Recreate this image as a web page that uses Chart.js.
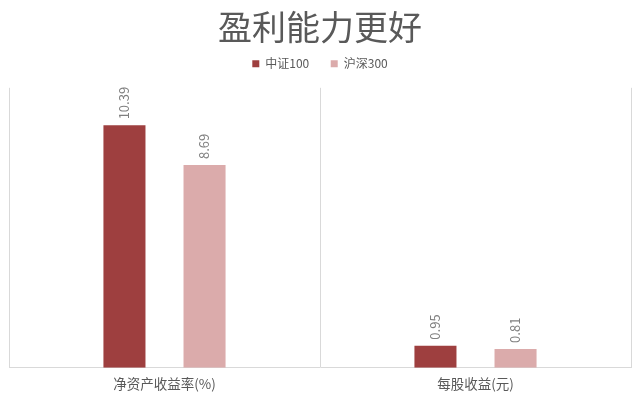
<!DOCTYPE html>
<html><head><meta charset="utf-8">
<script src="https://cdn.jsdelivr.net/npm/chart.js@4"></script>
<style>html,body{margin:0;padding:0;background:#fff}#wrap{width:640px;height:397px}</style>
</head><body><div id="wrap"><canvas id="c" width="640" height="397"></canvas></div>
<script>
const categories = ['净资产收益率(%)', '每股收益(元)'];
const seriesNames = ['中证100', '沪深300'];
const csi100 = [10.39, 0.95];
const hs300 = [8.69, 0.81];
const colors = ['#9E3F3F', '#DBABAB'];
const FONT = '"Noto Sans CJK SC", "Noto Sans", sans-serif';

const valueLabels = {
  id: 'valueLabels',
  afterDatasetsDraw(chart) {
    const ctx = chart.ctx;
    chart.data.datasets.forEach((ds, i) => {
      const meta = chart.getDatasetMeta(i);
      meta.data.forEach((bar, j) => {
        ctx.save();
        ctx.translate(bar.x, bar.y - 6);
        ctx.rotate(-Math.PI / 2);
        ctx.font = '13px ' + FONT;
        ctx.fillStyle = '#808080';
        ctx.textAlign = 'left';
        ctx.textBaseline = 'middle';
        ctx.fillText(ds.data[j].toFixed(2), 0, 0);
        ctx.restore();
      });
    });
  }
};

const legendSpacer = {
  id: 'legendSpacer',
  beforeInit(chart) {
    const lg = chart.legend;
    const orig = lg.fit;
    lg.fit = function () { orig.call(this); this.height += 8; };
  }
};

new Chart(document.getElementById('c'), {
  type: 'bar',
  data: {
    labels: categories,
    datasets: [
      { label: seriesNames[0], data: csi100, backgroundColor: colors[0], categoryPercentage: 0.515, barPercentage: 0.525 },
      { label: seriesNames[1], data: hs300, backgroundColor: colors[1], categoryPercentage: 0.515, barPercentage: 0.525 }
    ]
  },
  options: {
    responsive: false,
    animation: false,
    devicePixelRatio: 1,
    layout: { padding: { left: 9, right: 9, top: 4, bottom: -3 } },
    plugins: {
      title: { display: true, text: '盈利能力更好', color: '#595959', font: { family: FONT, size: 34, weight: 'normal' }, padding: { top: 3, bottom: 2 } },
      legend: {
        display: true,
        labels: {
          color: '#595959', font: { family: FONT, size: 12 }, boxWidth: 7, boxHeight: 7, padding: 8,
          generateLabels(chart) {
            return chart.data.datasets.map((ds, i) => ({
              text: i === 0 ? ds.label + '     ' : ds.label,
              fillStyle: ds.backgroundColor, strokeStyle: ds.backgroundColor, lineWidth: 0,
              fontColor: '#595959', hidden: false, datasetIndex: i
            }));
          }
        }
      },
      tooltip: { enabled: false }
    },
    scales: {
      x: {
        grid: { display: true, offset: true, color: '#d9d9d9', drawTicks: false, lineWidth: 1 },
        border: { display: true, color: '#d9d9d9' },
        ticks: { color: '#595959', font: { family: FONT, size: 13.5 }, padding: 8 }
      },
      y: {
        display: false,
        min: 0, max: 12,
        grid: { display: false }
      }
    }
  },
  plugins: [legendSpacer, valueLabels]
});
</script>
</body></html>
